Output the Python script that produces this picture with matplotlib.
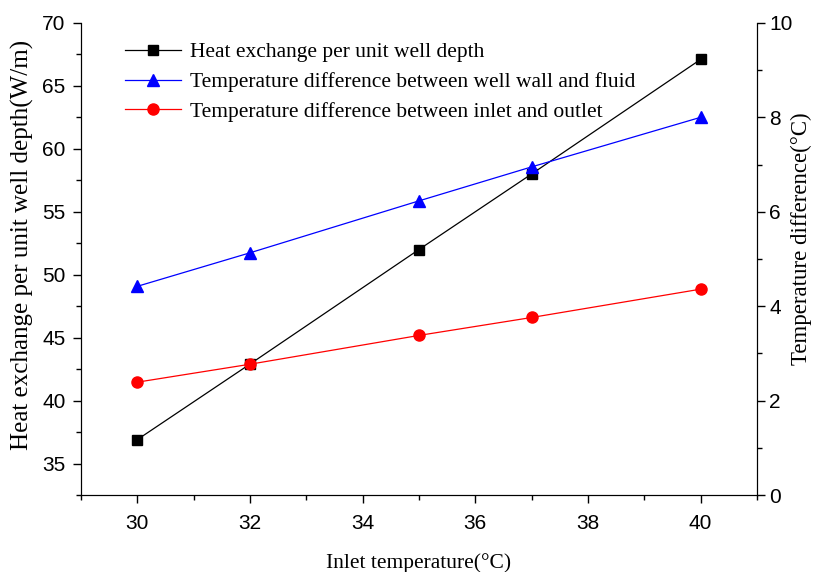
import matplotlib
matplotlib.use("Agg")
import matplotlib.pyplot as plt
from matplotlib.ticker import MultipleLocator

# data
inlet_temp = [30, 32, 35, 37, 40]
heat_per_depth = [36.9, 42.9, 52.0, 58.0, 67.1]
dt_wall_fluid = [4.42, 5.13, 6.23, 6.95, 8.0]
dt_inlet_outlet = [2.39, 2.77, 3.38, 3.76, 4.36]

labels = ["Heat exchange per unit well depth",
          "Temperature difference between well wall and fluid",
          "Temperature difference between inlet and outlet"]

serif = "Liberation Serif"
sans = "Liberation Sans"

fig = plt.figure(figsize=(8.13, 5.72), dpi=100)
ax = fig.add_axes([0.0996, 0.1346, 0.8315, 0.8254])
ax2 = ax.twinx()

l1, = ax.plot(inlet_temp, heat_per_depth, color="black", lw=0.9,
              marker="s", ms=7)
l2, = ax2.plot(inlet_temp, dt_wall_fluid, color="blue", lw=0.9,
               marker="^", ms=9)
l3, = ax2.plot(inlet_temp, dt_inlet_outlet, color="red", lw=0.9,
               marker="o", ms=8)

ax.set_xlim(29, 41)
ax.set_ylim(32.5, 70)
ax2.set_ylim(0, 10)

ax.xaxis.set_major_locator(MultipleLocator(2))
ax.xaxis.set_minor_locator(MultipleLocator(1))
ax.yaxis.set_minor_locator(MultipleLocator(2.5))
ax2.yaxis.set_major_locator(MultipleLocator(2))
ax2.yaxis.set_minor_locator(MultipleLocator(1))

ax.set_yticks([35, 40, 45, 50, 55, 60, 65, 70])

for a in (ax, ax2):
    a.spines["top"].set_visible(False)
    a.tick_params(which="major", direction="out", length=6, width=1,
                  labelsize=15, pad=5)
    a.tick_params(which="minor", direction="out", length=3.5, width=1)
    for t in a.get_xticklabels() + a.get_yticklabels():
        t.set_fontfamily(sans)
ax.tick_params(axis="x", pad=8)
ax2.tick_params(axis="y", pad=3)

ax.set_xlabel("Inlet temperature(°C)", fontfamily=serif, fontsize=15.5,
              labelpad=14)
ax.set_ylabel("Heat exchange per unit well depth(W/m)", fontfamily=serif,
              fontsize=18)
ax.yaxis.set_label_coords(-0.069, 0.53)
ax2.set_ylabel("Temperature difference(°C)", fontfamily=serif, fontsize=16.5)
ax2.yaxis.set_label_coords(1.05, 0.542)

ax.legend([l1, l2, l3], labels, loc="upper left",
          bbox_to_anchor=(0.037, 1.0), frameon=False,
          prop={"family": serif, "size": 15.5}, handlelength=2.6,
          labelspacing=0.45, handletextpad=0.4)

fig.savefig("out.png", dpi=100)
